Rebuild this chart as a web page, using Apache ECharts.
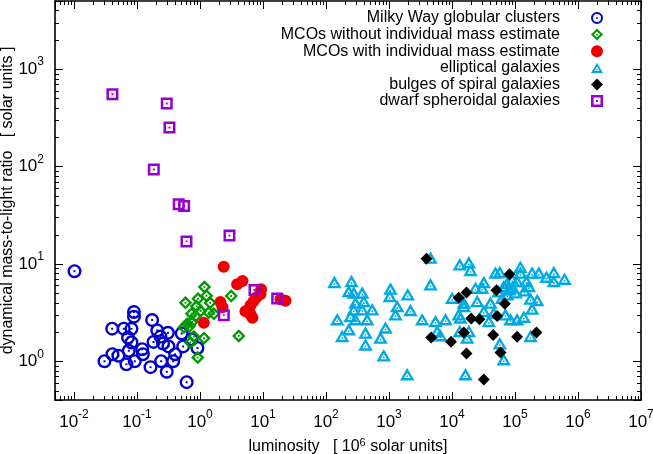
<!DOCTYPE html>
<html><head><meta charset="utf-8">
<script src="https://cdn.jsdelivr.net/npm/echarts@6/dist/echarts.min.js"></script>
<style>html,body{margin:0;padding:0;background:#fff}#c{width:653px;height:454px}</style>
</head><body><div id="c"></div>
<script>
// ---- data: [luminosity (1e6 Lsun), dynamical M/L (solar units)] ----
const globularClusters = [[0.0102,8.4],[0.0305,1.0],[0.0408,1.18],[0.0508,1.14],[0.0404,2.16],[0.0617,2.16],[0.0819,2.15],[0.0895,3.2],[0.0895,2.87],[0.072,1.75],[0.0819,1.56],[0.0741,1.28],[0.068,0.93],[0.0923,1.0],[0.121,1.33],[0.124,1.18],[0.174,2.65],[0.21,2.07],[0.236,1.79],[0.31,1.96],[0.183,1.58],[0.259,1.52],[0.316,1.42],[0.242,1.0],[0.164,0.87],[0.297,0.78],[0.376,1.0],[0.404,1.18],[0.513,1.93],[0.541,1.42],[0.738,1.68],[0.912,1.37],[0.615,0.61]];
const mcoNoMass = [[0.589,3.98],[0.93,4.38],[1.18,5.77],[1.27,4.7],[1.45,3.98],[3.13,4.68],[0.733,3.07],[0.849,2.9],[1.02,3.28],[1.38,3.16],[1.66,3.07],[0.557,2.23],[0.627,2.42],[0.752,2.53],[0.798,1.79],[0.706,1.56],[1.16,1.72],[0.923,1.09],[4.13,1.82],[0.681,2.29],[0.88,3.66]];
const mcoMass = [[2.38,9.36],[3.89,6.16],[4.73,6.66],[2.11,4.06],[2.28,3.58],[1.15,2.49],[9.35,5.47],[9.12,4.86],[7.14,4.15],[6.34,3.75],[5.96,3.37],[6.34,3.03],[6.81,2.79],[5.27,3.26],[22.8,4.17],[19,4.32],[7.89,4.53]];
const ellipticals = [[136,6.5],[254,6.66],[230,5.26],[276,5.07],[376,5.07],[294,4.0],[398,4.15],[376,3.41],[541,3.41],[276,3.41],[245,2.92],[151,2.7],[294,2.7],[451,2.7],[230,2.13],[181,1.82],[424,1.97],[424,1.49],[880,2.22],[733,1.75],[826,1.15],[1057,5.57],[1030,4.68],[1349,3.69],[1268,3.03],[1986,4.86],[2193,3.36],[4560,6.16],[4560,11.6],[3365,2.7],[5470,2.59],[7890,2.7],[5820,2.05],[6560,1.85],[1945,0.736],[16370,0.736],[13300,9.88],[18500,10.4],[19700,8.67],[10070,4.5],[15400,4.0],[12800,3.03],[13600,2.81],[17400,1.75],[23600,5.7],[25100,4.15],[13300,2.05],[18500,2.05],[49000,8.13],[57400,8.24],[122000,9.36],[122000,8.13],[187000,8.13],[239000,8.13],[316000,7.39],[413000,8.24],[611000,7.05],[413000,6.66],[152000,6.66],[166000,5.92],[32000,6.5],[30100,5.7],[75200,6.41],[90300,6.93],[108000,6.66],[66400,5.92],[79800,5.47],[75200,4.86],[62600,4.5],[40800,4.0],[176000,4.4],[225000,4.25],[15400,3.69],[32000,3.28],[46000,3.16],[70600,3.03],[84900,2.7],[108000,2.7],[138000,2.87],[187000,3.47],[38400,2.59],[176000,1.82],[57400,1.53],[66400,1.05],[91200,5.74],[102000,5.1],[54700,5.22],[141000,5.35]];
const bulges = [[3940,11.3],[17000,5.07],[12800,4.5],[81800,7.8],[50800,5.35],[68900,3.9],[20200,2.75],[27300,2.7],[52100,2.92],[4680,1.75],[9640,1.59],[15400,1.97],[45100,1.86],[108000,1.78],[219000,1.97],[17000,1.2],[58900,1.23],[32000,0.65]];
const dwarfSpheroidals = [[0.0408,552],[0.297,443],[0.328,251],[0.185,93.1],[0.46,41],[0.561,39.2],[2.94,19.5],[0.611,17],[7.33,5.39],[16.8,4.4],[2.39,2.96]];

const seriesNames = ['Milky Way globular clusters','MCOs without individual mass estimate','MCOs with individual mass estimate','elliptical galaxies','bulges of spiral galaxies','dwarf spheroidal galaxies'];
const xRange = [0.005, 1e7];
const yRange = [0.4, 5000];
const xTitle = 'luminosity   [ 10{s|6} solar units]';
const yTitle = 'dynamical mass-to-light ratio   [ solar units ]';

// ---- style ----
const FONT = '"Liberation Sans", Arial, Helvetica, sans-serif';
const SYM = {
  ring: 'path://M10,0A10,10 0 1,1 10,20A10,10 0 1,1 10,0Z M10,3.4A6.6,6.6 0 1,0 10,16.6A6.6,6.6 0 1,0 10,3.4Z M8.6,8.6L11.4,8.6L11.4,11.4L8.6,11.4Z',
  diamondRing: 'path://M10,0L20,10L10,20L0,10Z M10,4.9L4.9,10L10,15.1L15.1,10Z M8.6,8.6L11.4,8.6L11.4,11.4L8.6,11.4Z',
  triRing: 'path://M10,0L20,17L0,17Z M10,6.4L5.6,13.7L14.4,13.7Z M8.9,10.2L11.1,10.2L11.1,12.4L8.9,12.4Z',
  squareRing: 'path://M0,0L20,0L20,20L0,20Z M4.2,4.2L4.2,15.8L15.8,15.8L15.8,4.2Z M8.4,8.4L11.6,8.4L11.6,11.6L8.4,11.6Z'
};
const GRID = {left: 55, right: 12, top: 1, bottom: 54};

function powLabel(v) {
  const e = Math.log10(v), r = Math.round(e);
  if (Math.abs(e - r) > 1e-6) return '';
  return '{b|10}{s|' + r + '}';
}
const labelRich = {
  b: {fontFamily: FONT, fontSize: 17, color: '#000', lineHeight: 26},
  s: {fontFamily: FONT, fontSize: 12, color: '#000', verticalAlign: 'top', lineHeight: 12}
};
const axisLine = {show: true, onZero: false, lineStyle: {color: '#000', width: 1.6}};
const axisTick = {show: true, inside: true, length: 8, lineStyle: {color: '#000', width: 1}};
const nameStyle = {fontFamily: FONT, fontSize: 16, color: '#000', lineHeight: 20,
  rich: {s: {fontFamily: FONT, fontSize: 11, color: '#000', verticalAlign: 'top', lineHeight: 11}}};

function mkX(pos, main) {
  return {
    type: 'log', logBase: 10, min: xRange[0], max: xRange[1], splitNumber: 10, position: pos,
    axisLine, axisTick, splitLine: {show: false}, minorTick: {show: false},
    axisLabel: main ? {show: true, margin: 9, formatter: powLabel, rich: labelRich} : {show: false},
    name: main ? xTitle : '', nameLocation: 'middle', nameGap: 37, nameMoveOverlap: false,
    nameTextStyle: nameStyle
  };
}
function mkY(pos, main) {
  return {
    type: 'log', logBase: 10, min: yRange[0], max: yRange[1], splitNumber: 5, position: pos,
    axisLine, axisTick, splitLine: {show: false}, minorTick: {show: false},
    axisLabel: main ? {show: true, margin: 11, formatter: powLabel, rich: labelRich} : {show: false},
    name: main ? yTitle : '', nameLocation: 'middle', nameGap: 37, nameMoveOverlap: false,
    nameTextStyle: nameStyle
  };
}
function sc(name, data, symbol, size, color) {
  return {
    type: 'scatter', name, data, symbol, symbolSize: size, xAxisIndex: 0, yAxisIndex: 0,
    itemStyle: {color, opacity: 1}, emphasis: {disabled: true}, silent: true
  };
}

const chart = echarts.init(document.getElementById('c'), null, {renderer: 'canvas'});
chart.setOption({
  animation: false,
  backgroundColor: '#fff',
  grid: Object.assign({containLabel: false, outerBoundsMode: 'none'}, GRID),
  legend: {
    orient: 'vertical', right: 50, top: 10, padding: 0, align: 'right',
    itemWidth: 12, itemHeight: 12, itemGap: 0.6, selectedMode: false,
    textStyle: {fontFamily: FONT, fontSize: 16, color: '#000', lineHeight: 16, padding: [0, 26, 0, 0]},
    data: seriesNames
  },
  xAxis: [mkX('bottom', true), mkX('top', false)],
  yAxis: [mkY('left', true), mkY('right', false)],
  series: [
    sc(seriesNames[0], globularClusters, SYM.ring, 14, '#0000cd'),
    sc(seriesNames[1], mcoNoMass, SYM.diamondRing, 13.5, '#009a00'),
    sc(seriesNames[2], mcoMass, 'circle', 12, '#ee0000'),
    sc(seriesNames[3], ellipticals, SYM.triRing, [14.5, 12.5], '#00a9e2'),
    sc(seriesNames[4], bulges, 'diamond', 12, '#000000'),
    sc(seriesNames[5], dwarfSpheroidals, SYM.squareRing, 12, '#9400d3')
  ]
});

// minor ticks at 2..9 x 10^n, positioned through the axes' own scales
(function () {
  const W = 653, H = 454;
  const x0 = GRID.left, x1 = W - GRID.right, y0 = GRID.top, y1 = H - GRID.bottom;
  const els = [];
  const L = 4;
  for (let d = -3; d <= 6; d++) for (let k = 2; k <= 9; k++) {
    const v = k * Math.pow(10, d);
    if (v <= xRange[0] || v >= xRange[1]) continue;
    const px = Math.round(chart.convertToPixel({xAxisIndex: 0}, v)) + 0.5;
    els.push({type: 'line', silent: true, shape: {x1: px, y1: y1, x2: px, y2: y1 - L}, style: {stroke: '#000', lineWidth: 1}});
    els.push({type: 'line', silent: true, shape: {x1: px, y1: y0, x2: px, y2: y0 + L}, style: {stroke: '#000', lineWidth: 1}});
  }
  for (let d = -1; d <= 3; d++) for (let k = 2; k <= 9; k++) {
    const v = k * Math.pow(10, d);
    if (v <= yRange[0] || v >= yRange[1]) continue;
    const py = Math.round(chart.convertToPixel({yAxisIndex: 0}, v)) + 0.5;
    els.push({type: 'line', silent: true, shape: {x1: x0, y1: py, x2: x0 + L, y2: py}, style: {stroke: '#000', lineWidth: 1}});
    els.push({type: 'line', silent: true, shape: {x1: x1, y1: py, x2: x1 - L, y2: py}, style: {stroke: '#000', lineWidth: 1}});
  }
  chart.setOption({graphic: {elements: els}});
})();
</script>
</body></html>
